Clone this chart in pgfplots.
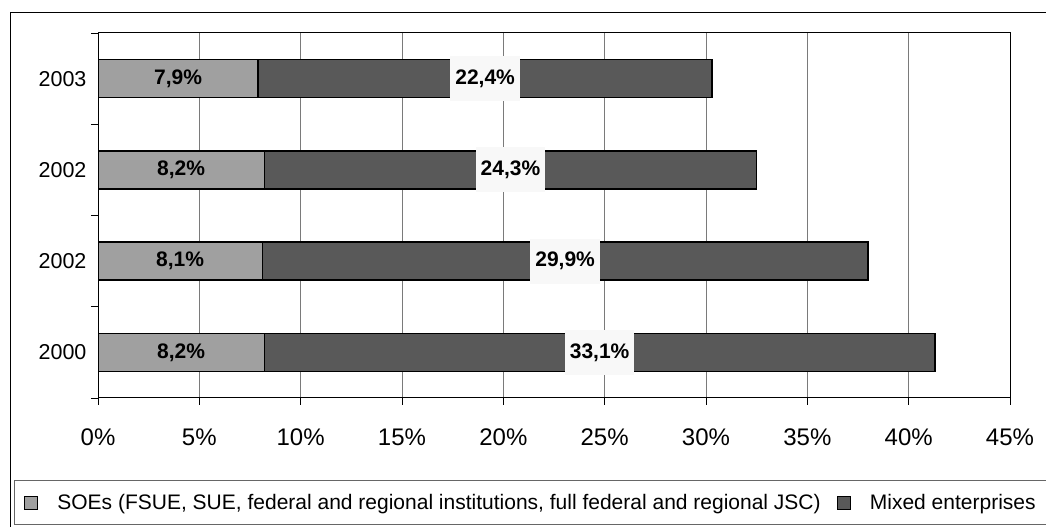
\documentclass[border=0pt]{standalone}
\usepackage{fontspec}
\setmainfont{Liberation Sans}
\usepackage{pgfplots}
\usepackage{pgfplotstable}
\pgfplotsset{compat=1.18}
\definecolor{soe}{HTML}{A0A0A0}
\definecolor{mixed}{HTML}{595959}
\definecolor{lbl}{HTML}{F8F8F8}
\definecolor{gridc}{HTML}{7A7A7A}

\pgfplotstableread{
pos soe mixed
0 8.2 33.1
1 8.1 29.9
2 8.2 24.3
3 7.9 22.4
}\datatable

\begin{document}
\begin{tikzpicture}[x=1pt,y=1pt]
\useasboundingbox (0,0) rectangle (1046,527);
\draw[black, line width=1pt] (10,-5) -- (10,514) -- (1060,514);
\draw[gray!80!black, line width=1pt] (14,2) rectangle (1060,46);
\begin{axis}[
  at={(98pt,129pt)}, anchor=south west,
  scale only axis, width=912pt, height=365pt,
  xbar stacked, bar width=38pt,
  xmin=0, xmax=45, xtick={0,5,...,45},
  ymin=-0.5, ymax=3.5,
  ytick={-0.5,0.5,1.5,2.5,3.5}, yticklabels={},
  extra y ticks={0,1,2,3},
  extra y tick labels={2000,2002,2002,2003},
  extra y tick style={major tick length=0pt, grid=none},
  xtick pos=bottom, ytick pos=left,
  tick align=outside, major tick length=7pt,
  tick style={black, line width=0.8pt},
  axis line style={black, line width=1pt},
  xmajorgrids=true,
  grid style={gridc, line width=0.8pt},
  /pgf/number format/assume math mode=true,
  xticklabel={\pgfmathprintnumber{\tick}\%},
  xticklabel style={font=\fontsize{24}{28}\selectfont, yshift=-20pt},
  yticklabel style={font=\fontsize{21.5}{25}\selectfont, xshift=-8pt},
  point meta=explicit,
  nodes near coords={\pgfmathprintnumber[fixed,fixed zerofill,precision=1,use comma]{\pgfplotspointmeta}\%},
  every node near coord/.append style={font=\bfseries\fontsize{21}{25}\selectfont, anchor=center, text=black},
  legend style={at={(-0.0844,-0.2877)}, anchor=west, draw=none, fill=none,
    legend columns=2, font=\fontsize{21}{25}\selectfont},
]
\addplot[fill=soe, draw=black, line width=1.3pt,
  legend image code/.code={\draw[fill=soe,line width=1pt,draw=black] (0pt,-6.5pt) rectangle (13pt,6.5pt); \path (30pt,0pt);}]
  table[x=soe, y=pos, meta=soe] {\datatable};
\addlegendentry{SOEs (FSUE, SUE, federal and regional institutions, full federal and regional JSC)\hspace*{14pt}}
\addplot[fill=mixed, draw=black, line width=1.3pt,
  nodes near coords style={fill=lbl, inner xsep=5pt, minimum height=45pt},
  legend image code/.code={\draw[fill=mixed,line width=1pt,draw=black] (0pt,-6.5pt) rectangle (13pt,6.5pt); \path (30pt,0pt);}]
  table[x=mixed, y=pos, meta=mixed] {\datatable};
\addlegendentry{Mixed enterprises}
\end{axis}
\end{tikzpicture}
\end{document}
